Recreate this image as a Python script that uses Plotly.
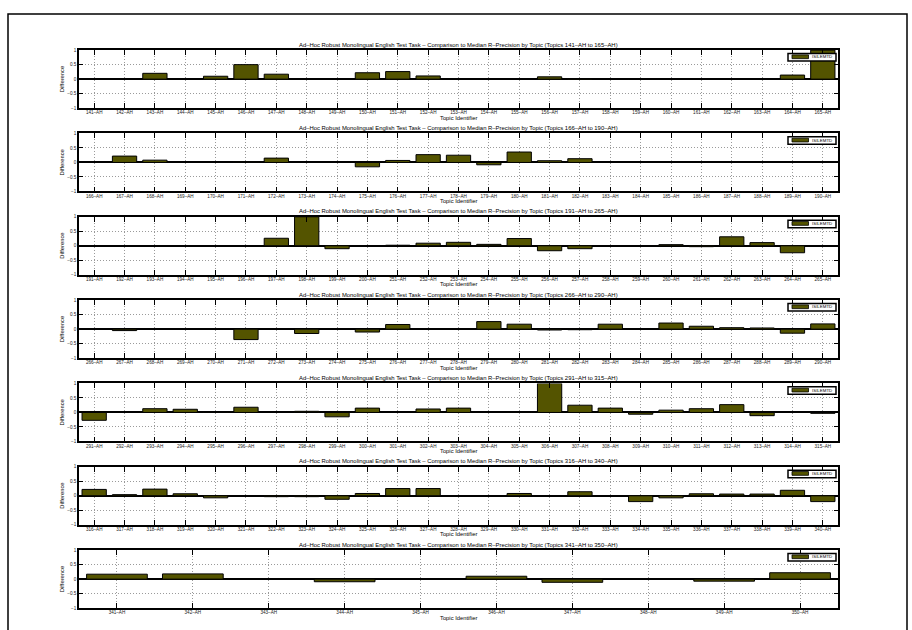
import plotly.graph_objects as go

# ---------------- data ----------------
topics_1 = [141, 142, 143, 144, 145, 146, 147, 148, 149, 150, 151, 152, 153,
            154, 155, 156, 157, 158, 159, 160, 161, 162, 163, 164, 165]
diff_1 = [0, 0, 0.2, 0, 0.1, 0.5, 0.17, 0, 0, 0.22, 0.26, 0.11, 0,
          0, 0, 0.08, 0.02, 0, -0.01, 0, 0, 0, 0, 0.14, 1.0]

topics_2 = [166, 167, 168, 169, 170, 171, 172, 173, 174, 175, 176, 177, 178,
            179, 180, 181, 182, 183, 184, 185, 186, 187, 188, 189, 190]
diff_2 = [0, 0.22, 0.08, 0, 0, 0.03, 0.15, 0, 0, -0.15, 0.07, 0.27, 0.25,
          -0.08, 0.36, 0.06, 0.13, 0, 0, 0, 0, 0, 0, 0, 0]

topics_3 = [191, 192, 193, 194, 195, 196, 197, 198, 199, 200, 251, 252, 253,
            254, 255, 256, 257, 258, 259, 260, 261, 262, 263, 264, 265]
diff_3 = [0, 0, 0, 0, 0, 0, 0.26, 1.0, -0.1, 0, 0.02, 0.09, 0.12,
          0.05, 0.25, -0.17, -0.1, 0, 0, 0.04, -0.03, 0.31, 0.11, -0.24, 0]

topics_4 = [266, 267, 268, 269, 270, 271, 272, 273, 274, 275, 276, 277, 278,
            279, 280, 281, 282, 283, 284, 285, 286, 287, 288, 289, 290]
diff_4 = [0, -0.05, 0, 0, 0, -0.36, 0, -0.15, 0, -0.1, 0.16, 0, 0,
          0.26, 0.17, -0.03, -0.02, 0.17, 0, 0.21, 0.1, 0.05, 0.04, -0.14, 0.18]

topics_5 = [291, 292, 293, 294, 295, 296, 297, 298, 299, 300, 301, 302, 303,
            304, 305, 306, 307, 308, 309, 310, 311, 312, 313, 314, 315]
diff_5 = [-0.27, 0, 0.13, 0.11, 0.02, 0.18, 0, 0.04, -0.15, 0.15, 0, 0.12, 0.15,
          0, 0.02, 1.0, 0.25, 0.15, -0.06, 0.08, 0.13, 0.27, -0.11, 0, -0.03]

topics_6 = [316, 317, 318, 319, 320, 321, 322, 323, 324, 325, 326, 327, 328,
            329, 330, 331, 332, 333, 334, 335, 336, 337, 338, 339, 340]
diff_6 = [0.22, 0.04, 0.23, 0.07, -0.07, 0, -0.03, -0.03, -0.12, 0.08, 0.25, 0.25, 0,
          0, 0.08, 0, 0.14, 0, -0.2, -0.07, 0.07, 0.06, 0.06, 0.19, -0.2]

topics_7 = [341, 342, 343, 344, 345, 346, 347, 348, 349, 350]
diff_7 = [0.17, 0.18, 0, -0.09, 0, 0.1, -0.11, 0, -0.07, 0.22]

y_tick_vals = [-1, -0.5, 0, 0.5, 1]
y_tick_text = ["\u22121", "\u22120.5", "0", "0.5", "1"]
run_name = "ISILEMTD"
title_base = "Ad\u2013Hoc Robust Monolingual English Test Task \u2013 Comparison to Median R\u2013Precision by Topic"

panels = [(topics_1, diff_1), (topics_2, diff_2), (topics_3, diff_3),
          (topics_4, diff_4), (topics_5, diff_5), (topics_6, diff_6),
          (topics_7, diff_7)]

# ---------------- layout helpers ----------------
W, H = 912, 630
FONT = "Liberation Sans, Arial, Helvetica, sans-serif"
OLIVE = "#545400"
GRID = "#9a9a9a"
PX_L, PX_R = 79, 838
TOP0, STEP, PH = 48.5, 84, 58.5


def fx(px):
    return px / W


def fy(py):
    return 1 - py / H


fig = go.Figure()
layout = dict(
    width=W, height=H,
    margin=dict(l=0, r=0, t=0, b=0),
    paper_bgcolor="white", plot_bgcolor="white",
    showlegend=False,
    font=dict(family=FONT, color="black"),
    bargap=0.2,
)
annotations = []
shapes = []

for k, (topics, vals) in enumerate(panels):
    n = k + 1
    xa = "x" if n == 1 else f"x{n}"
    ya = "y" if n == 1 else f"y{n}"
    labels = [f"{t}\u2013AH" for t in topics]
    top = TOP0 + STEP * k
    bot = top + PH

    fig.add_trace(go.Bar(
        x=labels, y=vals, xaxis=xa, yaxis=ya, name=run_name,
        width=0.8,
        marker=dict(color=OLIVE, line=dict(color="black", width=1)),
        showlegend=False,
    ))

    layout["xaxis" if n == 1 else f"xaxis{n}"] = dict(
        domain=[fx(PX_L), fx(PX_R)], anchor=ya, type="category",
        range=[-0.5, len(labels) - 0.5],
        tickmode="array", tickvals=labels, ticktext=labels, tickangle=0,
        showline=True, mirror="ticks", linecolor="black", linewidth=1.5,
        ticks="inside", ticklen=5, tickwidth=1, tickcolor="black",
        showgrid=True, gridcolor=GRID, griddash="1px,2px", gridwidth=0.8,
        zeroline=False, tickfont=dict(size=4.6, family=FONT, color="#222"),
        ticklabelstandoff=-1,
        fixedrange=True,
    )
    layout["yaxis" if n == 1 else f"yaxis{n}"] = dict(
        domain=[fy(bot), fy(top)], anchor=xa, range=[-1, 1],
        tickmode="array", tickvals=y_tick_vals, ticktext=y_tick_text,
        showline=True, mirror="ticks", linecolor="black", linewidth=1.5,
        ticks="inside", ticklen=4, tickwidth=1, tickcolor="black",
        showgrid=True, gridcolor=GRID, griddash="1px,2px", gridwidth=0.8,
        zeroline=True, zerolinecolor="black", zerolinewidth=1.5,
        tickfont=dict(size=4.6, family=FONT, color="#222"),
        fixedrange=True,
    )

    # panel title
    annotations.append(dict(
        xref="paper", yref="paper", x=fx((PX_L + PX_R) / 2), y=fy(top - 0.5),
        xanchor="center", yanchor="bottom", showarrow=False,
        text=f"{title_base} (Topics {labels[0]} to {labels[-1]})",
        font=dict(size=5.9, family=FONT, color="black"),
    ))
    # x axis title
    annotations.append(dict(
        xref="paper", yref="paper", x=fx((PX_L + PX_R) / 2), y=fy(bot + 9.5),
        xanchor="center", yanchor="middle", showarrow=False,
        text="Topic Identifier",
        font=dict(size=5.8, family=FONT, color="black"),
    ))
    # y axis title
    annotations.append(dict(
        xref="paper", yref="paper", x=fx(62), y=fy((top + bot) / 2),
        xanchor="center", yanchor="middle", showarrow=False, textangle=-90,
        text="Difference",
        font=dict(size=5.8, family=FONT, color="black"),
    ))
    # legend box
    shapes.append(dict(type="rect", xref="paper", yref="paper",
                       x0=fx(788), x1=fx(836), y0=fy(top + 11), y1=fy(top + 3.4),
                       line=dict(color="black", width=1.5), fillcolor="white",
                       layer="above"))
    shapes.append(dict(type="rect", xref="paper", yref="paper",
                       x0=fx(792), x1=fx(808.5), y0=fy(top + 8.6), y1=fy(top + 4.8),
                       line=dict(color="black", width=0.8), fillcolor=OLIVE,
                       layer="above"))
    annotations.append(dict(
        xref="paper", yref="paper", x=fx(810.3), y=fy(top + 6.8),
        xanchor="left", yanchor="middle", showarrow=False,
        text=run_name, font=dict(size=4.4, family=FONT, color="black"),
    ))

# page frame
shapes.append(dict(type="rect", xref="paper", yref="paper",
                   x0=fx(8), x1=fx(907), y0=-0.05, y1=fy(12),
                   line=dict(color="black", width=1.5), fillcolor="rgba(0,0,0,0)",
                   layer="below"))

layout["annotations"] = annotations
layout["shapes"] = shapes
fig.update_layout(**layout)
fig.write_html(
    "out.html",
    config={"displayModeBar": False},
    post_script="document.body.style.margin='0';document.body.style.overflow='hidden';",
)
